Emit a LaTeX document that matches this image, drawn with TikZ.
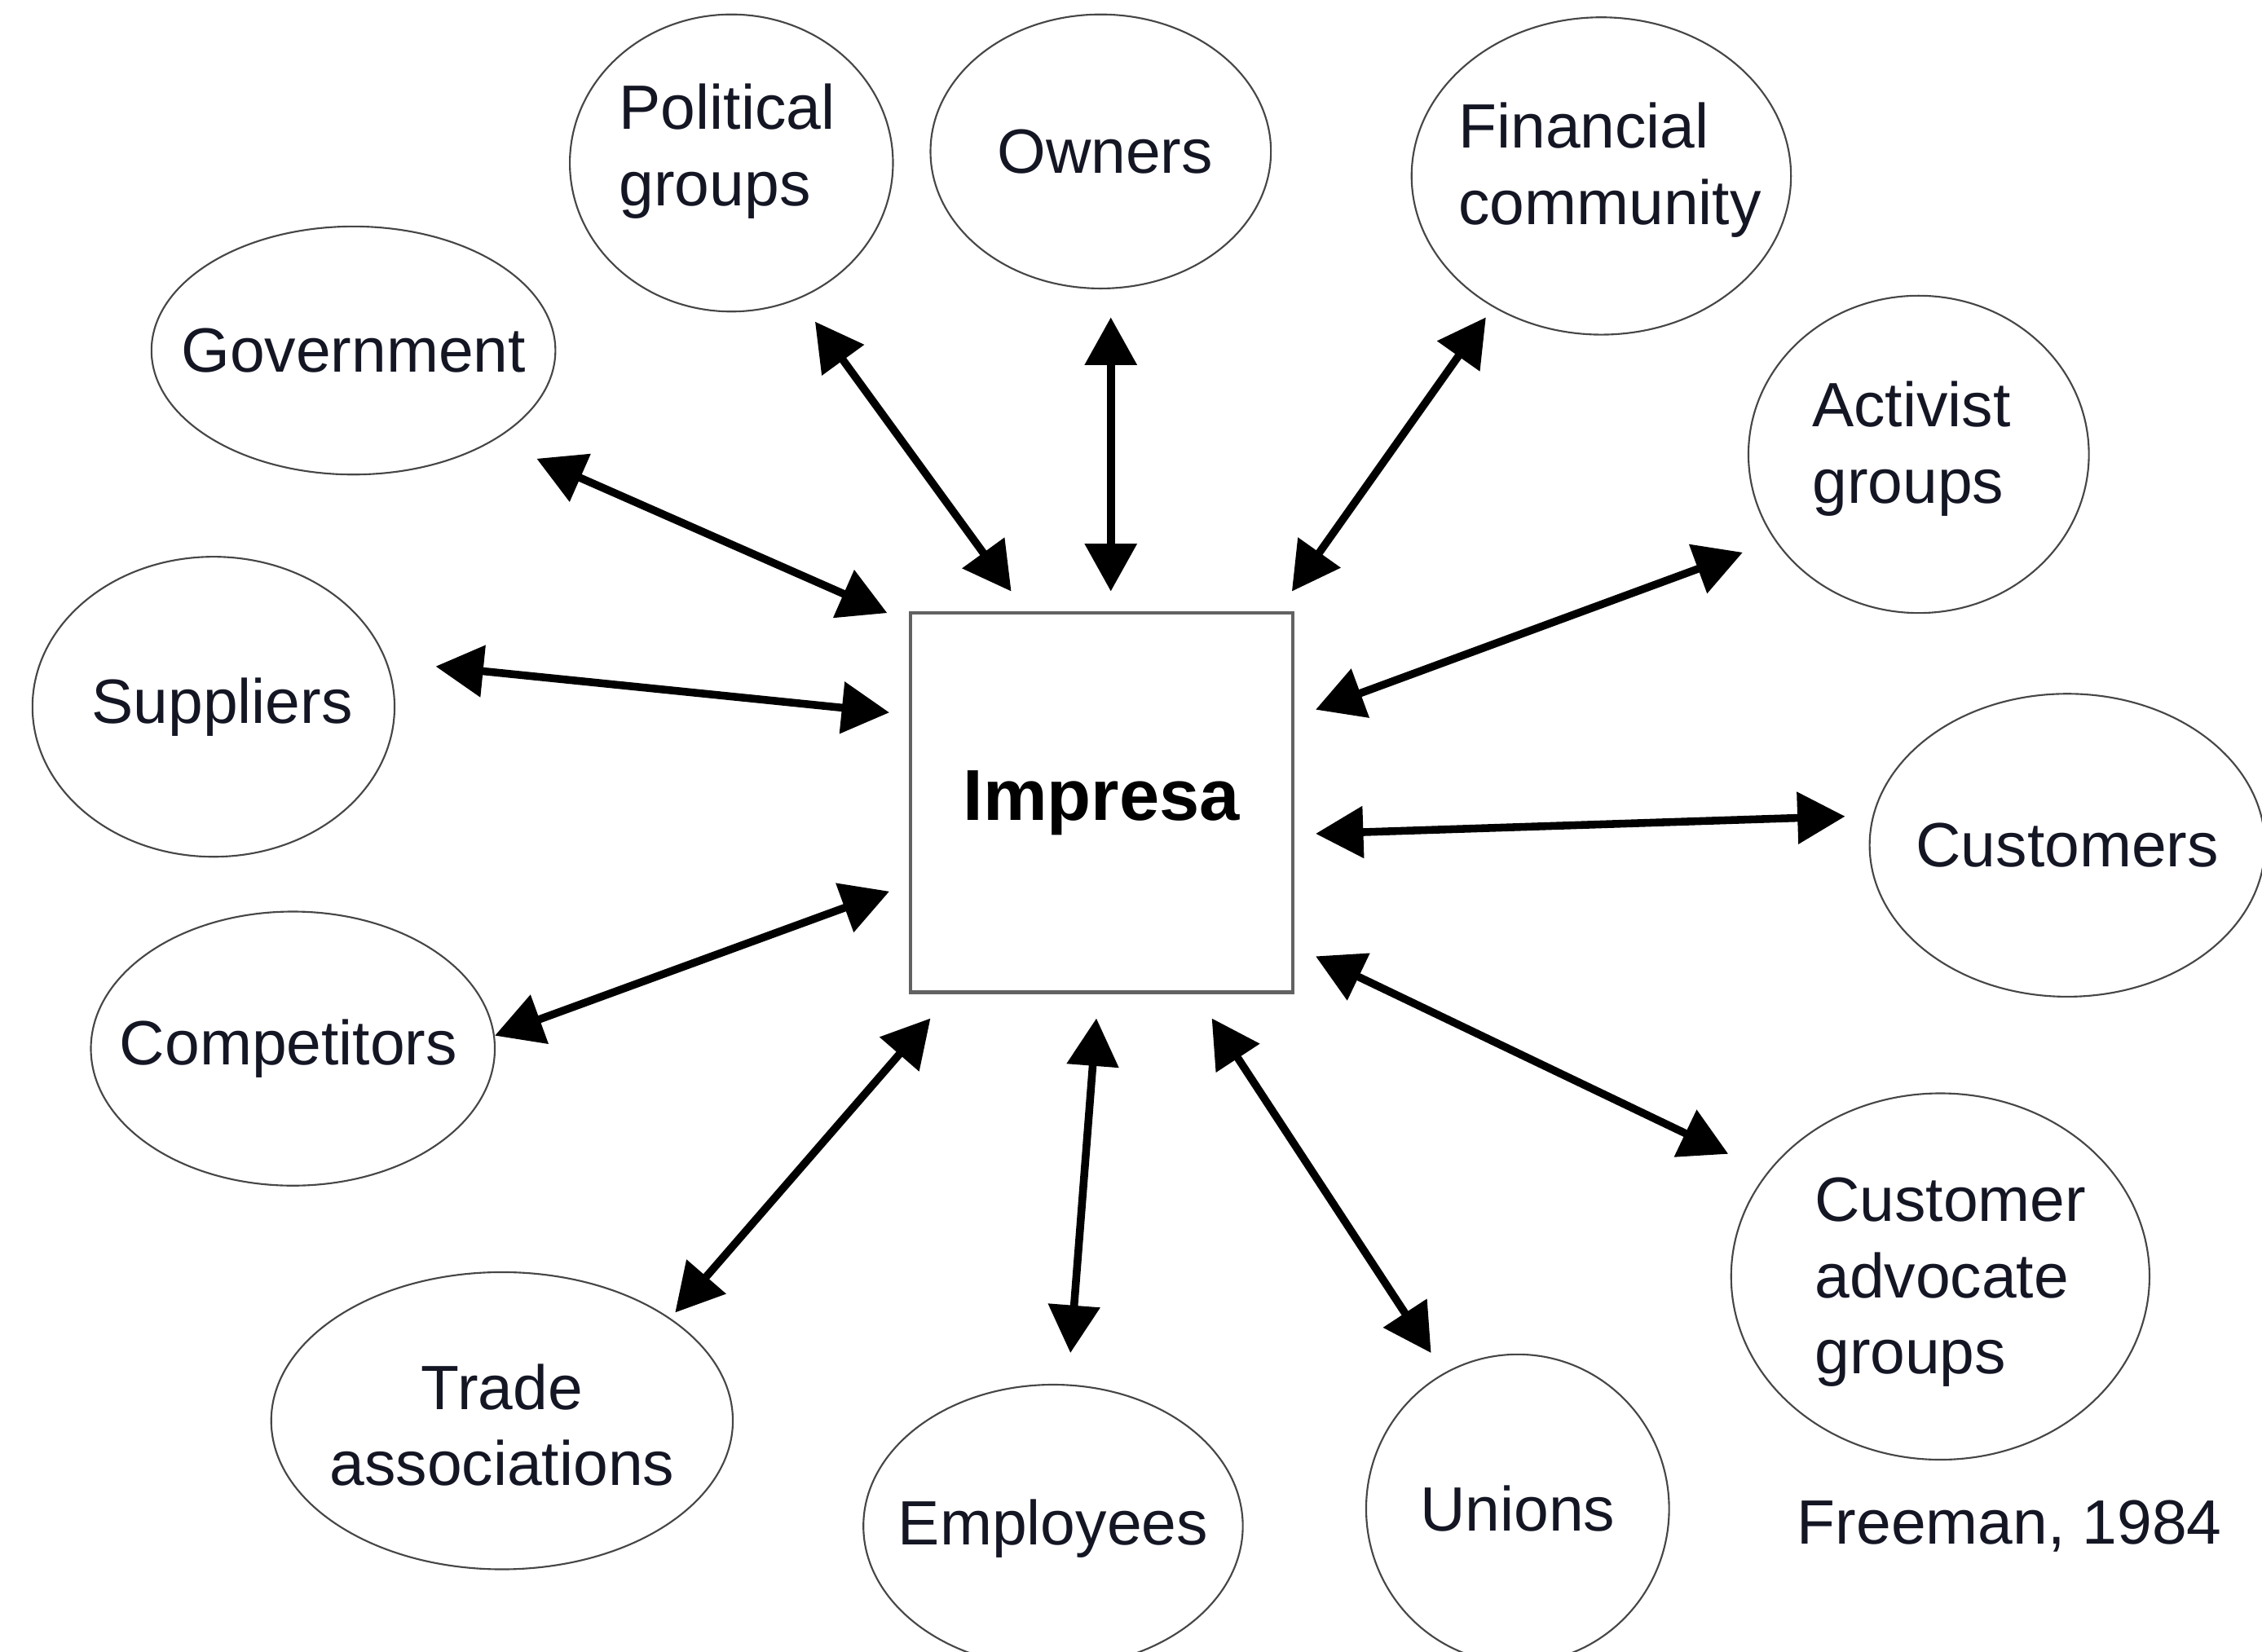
\documentclass[tikz,border=0pt]{standalone}
\usepackage{fontspec}
\setmainfont{Liberation Sans}
\usetikzlibrary{shapes.geometric,arrows.meta}
\definecolor{txt}{RGB}{20,22,36}
\definecolor{rim}{RGB}{70,70,70}
\tikzset{
  stake/.style={ellipse,draw=rim,line width=0.6pt,inner sep=0pt},
  stxt/.style={text=txt,align=left,inner sep=0pt,font=\fontsize{21.7}{26.5}\selectfont},
  firm/.style={rectangle,draw=rim!85!white,line width=1.2pt,inner sep=0pt,
    minimum width=132.5pt,minimum height=131.5pt,font=\bfseries\fontsize{25}{30}\selectfont},
  biarrow/.style={line width=2.7pt,{Triangle[length=16.5pt,width=17.5pt]}-{Triangle[length=16.5pt,width=17.5pt]}},
}
\begin{document}
\begin{tikzpicture}[x=0.5pt,y=-0.5pt]
\useasboundingbox (0,0) rectangle (1568,1145);
\node[firm] (box) at (763.5,556.5) {Impresa};
\node[stake,minimum width=112pt,minimum height=103pt,label={[stxt,name=polt,xshift=-1.5pt,yshift=4pt]center:Political\\groups}] (pol) at (507,113) {};
\node[stake,minimum width=118pt,minimum height=95pt,label={[stxt,name=ownt,xshift=1.5pt]center:Owners}] (own) at (763,105) {};
\node[stake,minimum width=131.5pt,minimum height=110pt,label={[stxt,name=fint,xshift=3pt,yshift=2pt]center:Financial\\community}] (fin) at (1110,122) {};
\node[stake,minimum width=140pt,minimum height=86pt,label={[stxt,name=govt]center:Government}] (gov) at (245,243) {};
\node[stake,minimum width=118pt,minimum height=110pt,label={[stxt,name=actt,xshift=-2.5pt,yshift=2pt]center:Activist\\groups}] (act) at (1330,315) {};
\node[stake,minimum width=125.5pt,minimum height=104pt,label={[stxt,name=supt,xshift=3pt]center:Suppliers}] (sup) at (148,490) {};
\node[stake,minimum width=137pt,minimum height=105pt,label={[stxt,name=cust]center:Customers}] (cus) at (1433,586) {};
\node[stake,minimum width=140pt,minimum height=95pt,label={[stxt,name=comt,xshift=-1.5pt]center:Competitors}] (com) at (203,727) {};
\node[stake,minimum width=145pt,minimum height=127pt,label={[stxt,name=cagt,xshift=3.5pt,yshift=-2pt]center:Customer\\advocate\\groups}] (cag) at (1345,885) {};
\node[stake,minimum width=160pt,minimum height=103pt,label={[stxt,align=center,name=trat,yshift=-1.5pt]center:Trade\\associations}] (tra) at (348,985) {};
\node[stake,minimum width=131.5pt,minimum height=98pt,label={[stxt,name=empt,yshift=-1pt]center:Employees}] (emp) at (730,1058) {};
\node[stake,minimum width=105pt,minimum height=107pt,label={[stxt,name=unit,yshift=0pt]center:Unions}] (uni) at (1052,1046) {};
\node[stxt] (ref) at (1393,1058) {Freeman, 1984};

\draw[biarrow] ([shift={(58,110)}]pol.center) -- ([shift={(-62.5,-146.5)}]box.center);
\draw[biarrow] ([shift={(7,115)}]own.center) -- ([shift={(6.5,-146.5)}]box.center);
\draw[biarrow] ([shift={(-80,98)}]fin.center) -- ([shift={(132,-146.5)}]box.center);
\draw[biarrow] ([shift={(127,75)}]gov.center) -- ([shift={(-148.5,-131.5)}]box.center);
\draw[biarrow] ([shift={(-122,68)}]act.center) -- ([shift={(148.5,-64.5)}]box.center);
\draw[biarrow] ([shift={(154,-28)}]sup.center) -- ([shift={(-147,-62.5)}]box.center);
\draw[biarrow] ([shift={(-154,-20)}]cus.center) -- ([shift={(148.5,21.5)}]box.center);
\draw[biarrow] ([shift={(140,-9)}]com.center) -- ([shift={(-147,61.5)}]box.center);
\draw[biarrow] ([shift={(-147,-85)}]cag.center) -- ([shift={(148.5,106.5)}]box.center);
\draw[biarrow] ([shift={(120,-75)}]tra.center) -- ([shift={(-118.5,149.5)}]box.center);
\draw[biarrow] ([shift={(12,-120)}]emp.center) -- ([shift={(-3.5,149.5)}]box.center);
\draw[biarrow] ([shift={(-60,-108)}]uni.center) -- ([shift={(76.5,149.5)}]box.center);
\end{tikzpicture}
\end{document}
